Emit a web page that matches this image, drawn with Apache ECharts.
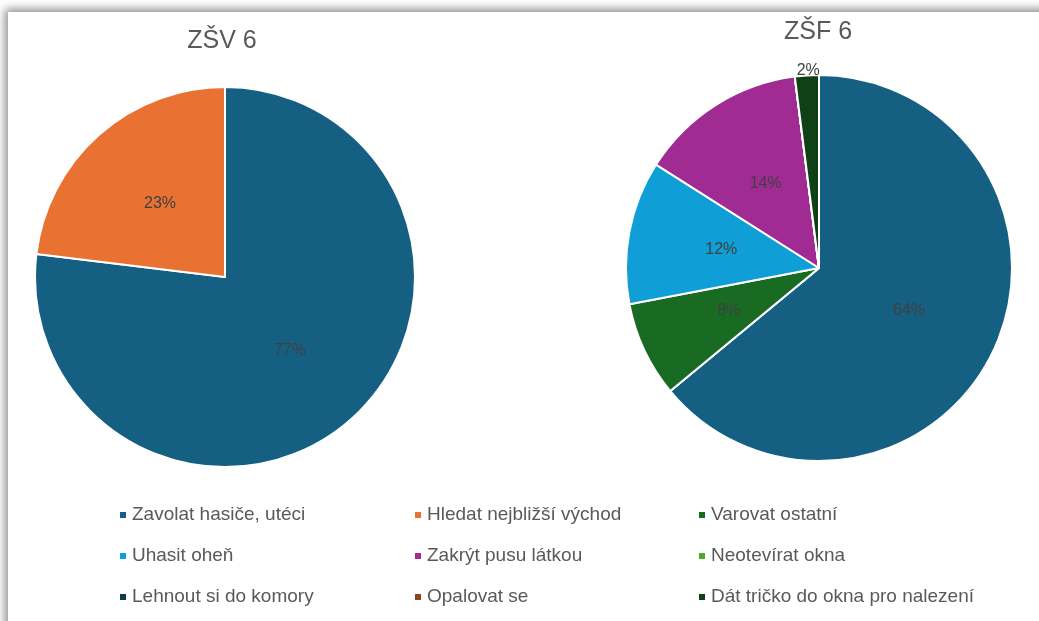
<!DOCTYPE html>
<html lang="cs" style="height: 100%">

<head>
  <meta charset="utf-8">
  <style>
    body { margin: 0; height: 100%; overflow: hidden; background: #fff; }
    #card {
      position: absolute; left: 8px; top: 12px; width: 1100px; height: 700px;
      background: #fff; box-shadow: -3px -3px 9px rgba(0, 0, 0, 0.45);
    }
    #container { position: absolute; left: 0; top: 0; width: 1039px; height: 621px; }
  </style>
</head>

<body>
  <div id="card"></div>
  <div id="container"></div>

  <script type="text/javascript" src="https://fastly.jsdelivr.net/npm/echarts@6.0.0/dist/echarts.min.js"></script>

  <script type="text/javascript">
    var dom = document.getElementById('container');
    var myChart = echarts.init(dom, null, { renderer: 'canvas' });

    // odpovědi (kategorie) a barvy
    const categories = [
      'Zavolat hasiče, utéci',
      'Hledat nejbližší východ',
      'Varovat ostatní',
      'Uhasit oheň',
      'Zakrýt pusu látkou',
      'Neotevírat okna',
      'Lehnout si do komory',
      'Opalovat se',
      'Dát tričko do okna pro nalezení'
    ];
    const colors = ['#156082', '#E97132', '#196B24', '#0F9ED5', '#A02B93',
      '#4EA72E', '#0D3A4E', '#8C441E', '#0F4016'];

    // počty odpovědí
    const zsvValues = [10, 3, 0, 0, 0, 0, 0, 0, 0];
    const zsfValues = [32, 0, 4, 6, 7, 0, 0, 0, 1];

    const titles = ['ZŠV 6', 'ZŠF 6'];

    const labelFont = 'Liberation Sans, Arial, sans-serif';

    function pieData(values) {
      return values.map(function (v, i) {
        return { name: categories[i], value: v };
      });
    }

    const zsfData = pieData(zsfValues);
    // malý dílek - popisek vně
    zsfData[8].label = { position: 'outside' };
    zsfData[8].labelLine = { show: false, length: 2, length2: 0 };

    const pieLabel = {
      show: true,
      position: 'inside',
      fontFamily: labelFont,
      fontSize: 16,
      color: '#404040',
      formatter: function (p) { return p.value ? Math.round(p.percent) + '%' : ''; }
    };

    function legendColumn(names, left) {
      return {
        orient: 'vertical',
        left: left,
        top: 500,
        data: names,
        icon: 'rect',
        itemWidth: 8,
        itemHeight: 8,
        itemGap: 21,
        textStyle: { fontFamily: labelFont, fontSize: 19, color: '#595959', lineHeight: 20 }
      };
    }

    const titleStyle = { fontFamily: labelFont, fontSize: 25, fontWeight: 'normal', color: '#595959' };

    var option = {
      color: colors,
      title: [
        { text: titles[0], left: 217, top: 24, textAlign: 'center', textStyle: titleStyle },
        { text: titles[1], left: 813, top: 15, textAlign: 'center', textStyle: titleStyle }
      ],
      legend: [
        legendColumn([categories[0], categories[3], categories[6]], 113),
        legendColumn([categories[1], categories[4], categories[7]], 408),
        legendColumn([categories[2], categories[5], categories[8]], 692)
      ],
      series: [
        {
          type: 'pie',
          name: titles[0],
          center: [225, 277],
          radius: 190,
          startAngle: 90,
          silent: true,
          itemStyle: { borderColor: '#fff', borderWidth: 2 },
          label: pieLabel,
          data: pieData(zsvValues)
        },
        {
          type: 'pie',
          name: titles[1],
          center: [819, 268],
          radius: 193,
          startAngle: 90,
          silent: true,
          itemStyle: { borderColor: '#fff', borderWidth: 2 },
          label: pieLabel,
          labelLayout: function (p) {
            // popisek malého dílku vystředit nad dílkem
            if (p.dataIndex === 8) return { dx: 18, dy: -3 };
          },
          data: zsfData
        }
      ]
    };

    myChart.setOption(option);
    window.addEventListener('resize', myChart.resize);
  </script>
</body>

</html>
